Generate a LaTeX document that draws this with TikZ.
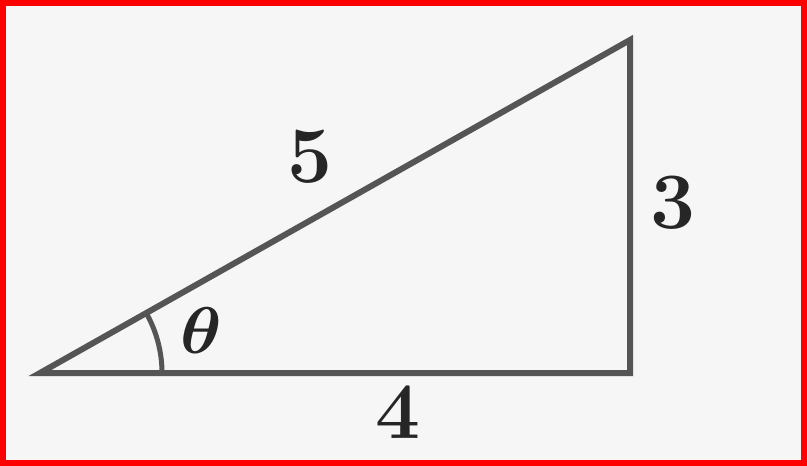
\documentclass[tikz,border=0pt]{standalone}
\usepackage{xcolor}
\usepackage{amsmath,amssymb}
\usepackage{tikz}
\usetikzlibrary{positioning}
\definecolor{edgegray}{RGB}{85,85,85}
\definecolor{framered}{RGB}{255,0,0}
\definecolor{paper}{RGB}{246,246,246}
\tikzstyle{side}=[line width=6pt,draw=edgegray,line join=miter]
\tikzstyle{sidelabel}=[inner sep=0pt,font=\fontsize{80}{80}\bfseries\selectfont,text=black!85]

\begin{document}
\begin{tikzpicture}[x=1pt,y=-1pt]
      \fill[paper] (0,0) rectangle (807,466);
      \draw[framered,line width=6pt] (3,3) rectangle (804,463);

      \coordinate (pA) at (40,373);
      \coordinate (pB) at (630,373);
      \coordinate (pC) at (630,40);

      \draw[side] (pA)--(pB)--(pC)--cycle;
      \draw[line width=5pt,draw=edgegray] (162,373) arc[start angle=0,end angle=-29.4,radius=122];

      \node[sidelabel] (lhyp) at (310,157) {5};
      \node[sidelabel] (lopp) at (673,203) {3};
      \node[sidelabel] (ladj) at (398,412) {4};
      \node[inner sep=0pt,text=black!85,xscale=7,yscale=6.6,transform shape] (ltheta) at (201,331) {$\boldsymbol{\theta}$};
    \end{tikzpicture}
\end{document}
